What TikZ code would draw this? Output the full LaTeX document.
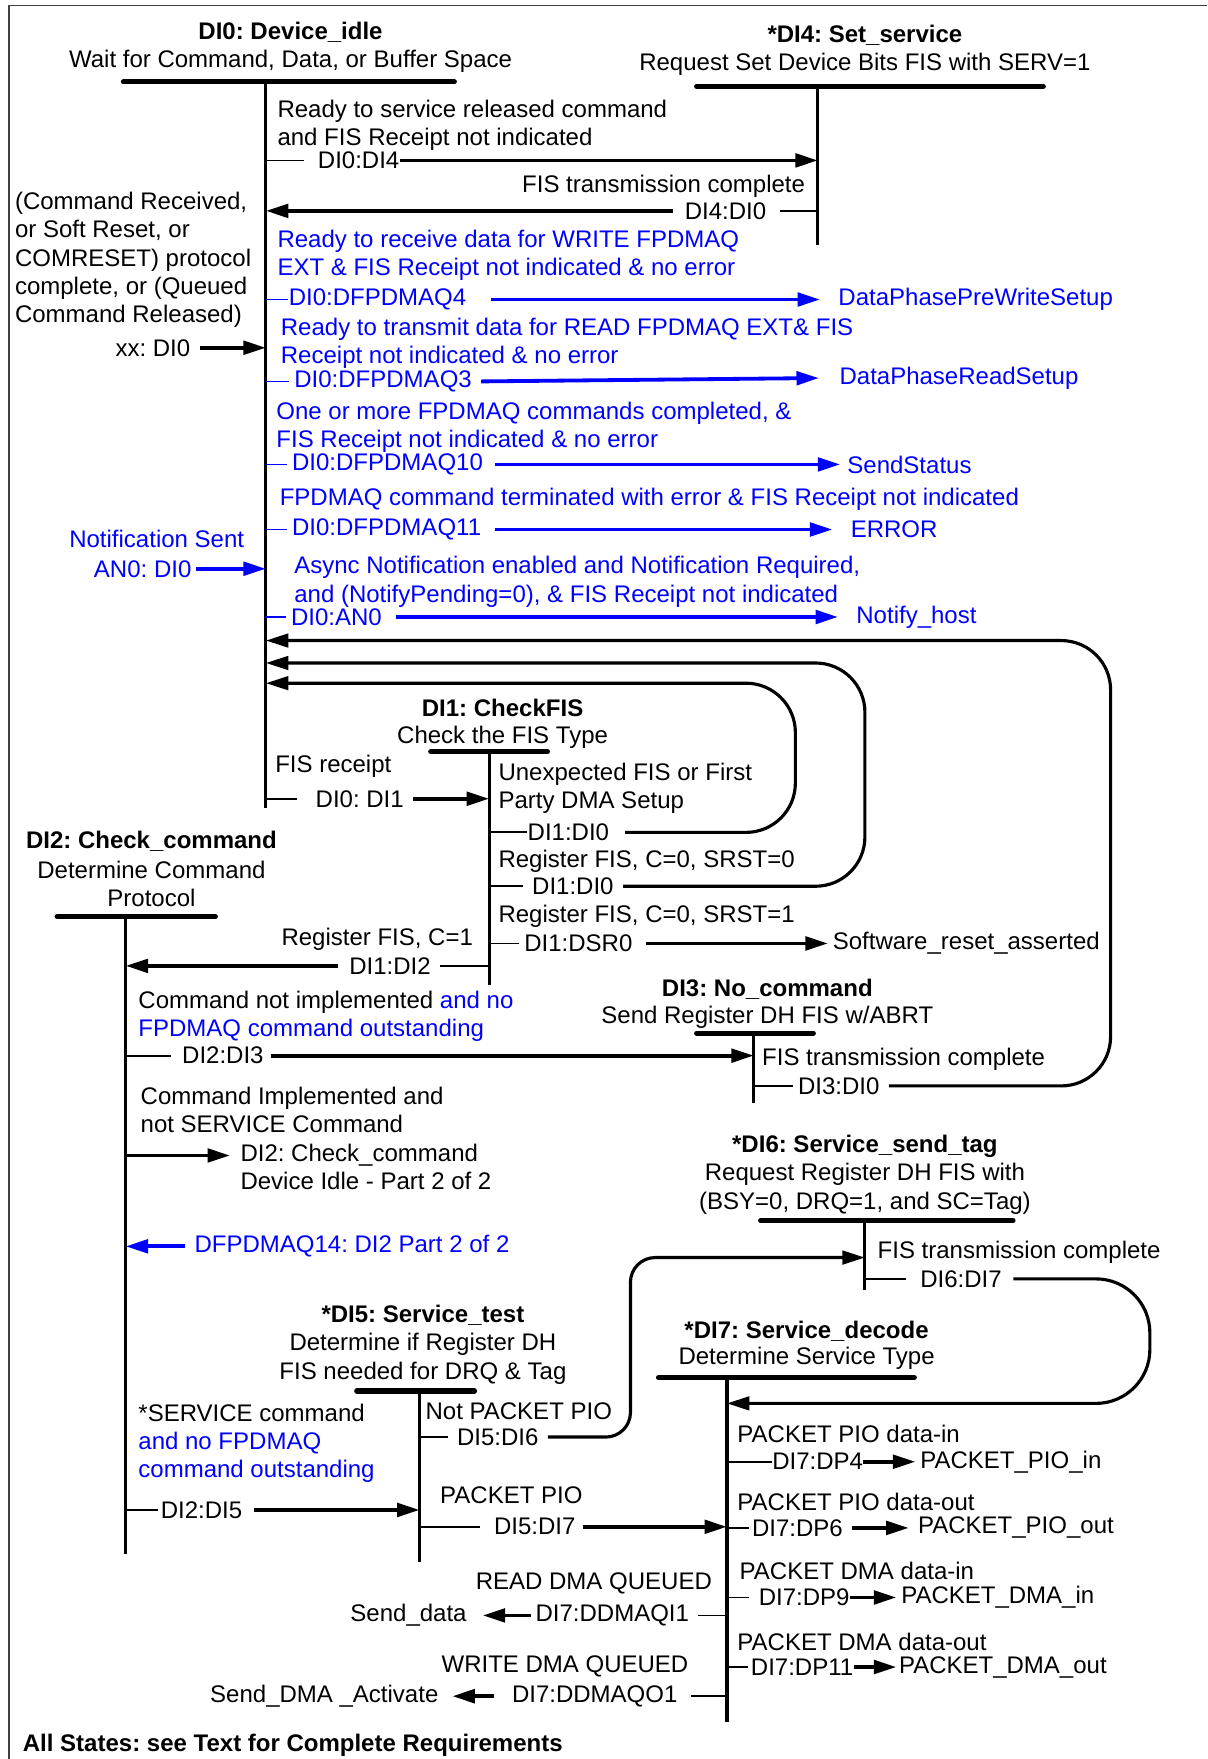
\documentclass[tikz,border=0pt]{standalone}
\usepackage{fontspec}
\setmainfont{Liberation Sans}
\usetikzlibrary{arrows.meta}
\frenchspacing
\begin{document}
\begin{tikzpicture}[x=0.5pt,y=-0.5pt,line join=round,
  font=\fontsize{10.7}{12.6}\selectfont,
  lbl/.style={anchor=west,inner sep=0pt,align=left},
  note/.style={lbl,yshift=-1.1pt},
  bl/.style={lbl,text=blue},
  bnote/.style={note,text=blue},
  ttl/.style={inner sep=0pt,align=center,yshift=-0.8pt,font=\fontsize{10.7}{12.6}\selectfont\bfseries},
  sub/.style={inner sep=0pt,align=center,yshift=-1.1pt},
  bar/.style={line width=2.3pt,line cap=round},
  stem/.style={line width=1.4pt},
  tick/.style={line width=0.8pt},
  arr/.style={line width=1.7pt,-{Triangle[length=10pt,width=6pt]}},
  barr/.style={arr,blue},
  back/.style={line width=1.4pt,rounded corners=22pt,-{Triangle[length=10pt,width=6pt]}}]
\useasboundingbox (0,0) rectangle (1076,1568);
\draw[line width=0.6pt,black!75] (8,1568) -- (8,5) -- (1076,5);

% DI0
\node[ttl] (d0) at (259,27) {DI0: Device\_idle};
\node[sub] (d0s) at (259,52) {Wait for Command, Data, or Buffer Space};
\draw[bar] (110,73) -- (405,73);
\coordinate (s0) at (237,73);
\draw[stem] (s0) -- (237,720);

% DI4
\node[ttl] (d4) at (771,30) {*DI4: Set\_service};
\node[sub] (d4s) at (771,55) {Request Set Device Bits FIS with SERV=1};
\draw[bar] (621,77) -- (930,77);
\coordinate (s4) at (729,77);
\draw[stem] (s4) -- (729,218);

\node[note] (c04) at (247,109.5) {Ready to service released command\\and FIS Receipt not indicated};
\node[lbl] (t04) at (283,143) {DI0:DI4};
\draw[tick] (t04 -| s0) -- ([xshift=-6pt]t04.west);
\draw[arr] (t04.east) -- (t04 -| s4);
\node[note,anchor=east] (c40) at (718,164) {FIS transmission complete};
\node[lbl] (t40) at (610,188) {DI4:DI0};
\draw[tick] ([xshift=6pt]t40.east) -- (t40 -| s4);
\draw[arr] ([xshift=-5pt]t40.west) -- (t40 -| s0);

% FPDMAQ exits
\node[bnote] (c4) at (247,225.5) {Ready to receive data for WRITE FPDMAQ\\EXT \& FIS Receipt not indicated \& no error};
\node[bl] (q4) at (257,267) {DI0:DFPDMAQ4};
\node[bl] (w4) at (747,267) {DataPhasePreWriteSetup};
\draw[tick,blue] (q4 -| s0) -- (q4.west);
\draw[barr] ([xshift=11pt]q4.east) -- ([xshift=-8pt]w4.west);

\node[bnote] (c3) at (250,303.5) {Ready to transmit data for READ FPDMAQ EXT\& FIS\\Receipt not indicated \& no error};
\node[bl] (q3) at (262,340) {DI0:DFPDMAQ3};
\node[bl] (w3) at (748,337) {DataPhaseReadSetup};
\draw[tick,blue] (q3 -| s0) -- ([xshift=-2pt]q3.west);
\draw[barr] ([xshift=4pt]q3.east) -- ([xshift=-9pt]w3.west);

\node[bnote] (c10) at (246,378.5) {One or more FPDMAQ commands completed, \&\\FIS Receipt not indicated \& no error};
\node[bl] (q10) at (260,414) {DI0:DFPDMAQ10};
\node[bl] (w10) at (755,414) {SendStatus};
\draw[tick,blue] (q10 -| s0) -- ([xshift=-2pt]q10.west);
\draw[barr] ([xshift=5pt]q10.east) -- ([xshift=-3pt]w10.west);

\node[bnote] (c11) at (249,443) {FPDMAQ command terminated with error \& FIS Receipt not indicated};
\node[bl] (q11) at (260,472) {DI0:DFPDMAQ11};
\node[bl] (w11) at (758,472) {ERROR};
\draw[tick,blue] (q11 -| s0) -- ([xshift=-2pt]q11.west);
\draw[barr] ([xshift=6pt]q11.east) -- ([xshift=-8pt]w11.west);

\node[bnote,anchor=east] (ns) at (218,478) {Notification Sent};
\node[bl,anchor=east] (an) at (171,507) {AN0: DI0};
\draw[barr] ([xshift=2pt]an.east) -- (an -| s0);

\node[bnote] (cn) at (262,516.5) {Async Notification enabled and Notification Required,\\and (NotifyPending=0), \& FIS Receipt not indicated};
\node[bl] (qa) at (259,550) {DI0:AN0};
\node[bl] (wa) at (763,550) {Notify\_host};
\draw[tick,blue] (qa -| s0) -- ([xshift=-2pt]qa.west);
\draw[barr] ([xshift=6pt]qa.east) -- ([xshift=-8pt]wa.west);

\node[note] (cr) at (13,229.5) {(Command Received,\\or Soft Reset, or\\COMRESET) protocol\\complete, or (Queued\\Command Released)};
\node[lbl,anchor=east] (xx) at (170,310) {xx: DI0};
\draw[arr] ([xshift=4pt]xx.east) -- (xx -| s0);

% DI2
\node[ttl] (d2) at (135,748) {DI2: Check\_command};
\node[sub] (d2s) at (135,785.5) {Determine Command\\Protocol};
\draw[bar] (51,817) -- (192,817);
\coordinate (s2) at (112,817);
\draw[stem] (s2) -- (112,1385);

% DI1
\node[ttl] (d1) at (448,629) {DI1: CheckFIS};
\node[sub] (d1s) at (448,655) {Check the FIS Type};
\draw[bar] (384,670) -- (488,670);
\coordinate (s1) at (436,670);
\draw[stem] (s1) -- (436,878);

\node[note] (c01) at (245,681) {FIS receipt};
\node[lbl] (t01) at (281,712) {DI0: DI1};
\draw[tick] (t01 -| s0) -- ([xshift=-8pt]t01.west);
\draw[arr] ([xshift=4pt]t01.east) -- (t01 -| s1);

\node[note] (c10a) at (444,700.5) {Unexpected FIS or First\\Party DMA Setup};
\node[lbl] (t10a) at (470,742) {DI1:DI0};
\draw[tick] (t10a -| s1) -- (t10a.west);
\coordinate (r1) at (709,609);
\draw[back] ([xshift=7pt]t10a.east) -| (r1) -- (r1 -| s0);

\node[note] (c10b) at (444,766) {Register FIS, C=0, SRST=0};
\node[lbl] (t10b) at (474,790) {DI1:DI0};
\draw[tick] (t10b -| s1) -- ([xshift=-4pt]t10b.west);
\coordinate (r2) at (771,591);
\draw[back] ([xshift=4pt]t10b.east) -| (r2) -- (r2 -| s0);

\node[note] (cdsr) at (444,815) {Register FIS, C=0, SRST=1};
\node[lbl] (tdsr) at (467,841) {DI1:DSR0};
\node[lbl] (wdsr) at (742,841) {Software\_reset\_asserted};
\draw[tick] (tdsr -| s1) -- ([xshift=-2pt]tdsr.west);
\draw[arr] ([xshift=6pt]tdsr.east) -- ([xshift=-2pt]wdsr.west);

\node[note,anchor=east] (c12) at (422,835) {Register FIS, C=1};
\node[lbl] (t12) at (311,861) {DI1:DI2};
\draw[tick] ([xshift=4pt]t12.east) -- (t12 -| s1);
\draw[arr] ([xshift=-5pt]t12.west) -- (t12 -| s2);

% DI3
\node[ttl] (d3) at (684,880) {DI3: No\_command};
\node[sub] (d3s) at (684,905) {Send Register DH FIS w/ABRT};
\draw[bar] (621,921) -- (725,921);
\coordinate (s3) at (672,921);
\draw[stem] (s3) -- (672,983);

\node[note] (c23) at (123,903.5) {Command not implemented \textcolor{blue}{and no}\\\textcolor{blue}{FPDMAQ command outstanding}};
\node[lbl] (t23) at (162,941) {DI2:DI3};
\draw[tick] (t23 -| s2) -- ([xshift=-5pt]t23.west);
\draw[arr] ([xshift=3pt]t23.east) -- (t23 -| s3);

\node[note] (c30) at (679,942) {FIS transmission complete};
\node[lbl] (t30) at (711,968) {DI3:DI0};
\draw[tick] (t30 -| s3) -- ([xshift=-2pt]t30.west);
\coordinate (r3) at (990,571);
\draw[back] ([xshift=4pt]t30.east) -| (r3) -- (r3 -| s0);

\node[note] (c22) at (125,987.5) {Command Implemented and\\not SERVICE Command};
\node[note] (t22) at (214,1038) {DI2: Check\_command\\Device Idle - Part 2 of 2};
\coordinate (p22) at (205,1030);
\draw[arr] (p22 -| s2) -- (p22);

\node[bl] (q14) at (173,1111) {DFPDMAQ14: DI2 Part 2 of 2};
\draw[barr] ([xshift=-4pt]q14.west) -- (q14 -| s2);

% DI7
\node[ttl] (d7) at (719,1185) {*DI7: Service\_decode};
\node[sub] (d7s) at (719,1209) {Determine Service Type};
\draw[bar] (587,1228) -- (815,1228);
\coordinate (s7) at (648,1228);
\draw[stem] (s7) -- (648,1535);

% DI6
\node[ttl] (d6) at (771,1020) {*DI6: Service\_send\_tag};
\node[sub] (d6s) at (771,1057.5) {Request Register DH FIS with\\(BSY=0, DRQ=1, and SC=Tag)};
\draw[bar] (678,1088) -- (903,1088);
\coordinate (s6) at (771,1088);
\draw[stem] (s6) -- (771,1150);
\node[note] (c67) at (782,1114) {FIS transmission complete};
\node[lbl] (t67) at (820,1140) {DI6:DI7};
\draw[tick] (t67 -| s6) -- ([xshift=-6pt]t67.west);
\coordinate (r67) at (1025,1251);
\draw[back,rounded corners=24pt] ([xshift=5pt]t67.east) -| (r67) -- (r67 -| s7);

% DI5
\node[ttl] (d5) at (377,1171) {*DI5: Service\_test};
\node[sub] (d5s) at (377,1209) {Determine if Register DH\\FIS needed for DRQ \& Tag};
\draw[bar] (318,1240) -- (423,1240);
\coordinate (s5) at (374,1240);
\draw[stem] (s5) -- (374,1392);

\node[note] (c25) at (123,1284.5) {*SERVICE command\\\textcolor{blue}{and no FPDMAQ}\\\textcolor{blue}{command outstanding}};
\node[lbl] (t25) at (143,1346) {DI2:DI5};
\draw[tick] (t25 -| s2) -- ([xshift=-1pt]t25.west);
\draw[arr] ([xshift=5pt]t25.east) -- (t25 -| s5);

\node[note] (c56) at (379,1256) {Not PACKET PIO};
\node[lbl] (t56) at (407,1281) {DI5:DI6};
\draw[tick] (t56 -| s5) -- ([xshift=-4pt]t56.west);
\coordinate (r56) at (562,1121);
\draw[back,rounded corners=11pt] ([xshift=4pt]t56.east) -| (r56) -- (r56 -| s6);

\node[note] (c57) at (392,1331) {PACKET PIO};
\node[lbl] (t57) at (440,1361) {DI5:DI7};
\draw[tick] (t57 -| s5) -- ([xshift=-6pt]t57.west);
\draw[arr] ([xshift=3pt]t57.east) -- (t57 -| s7);

% DI7 exits
\node[note] (cp4) at (657,1276) {PACKET PIO data-in};
\node[lbl] (tp4) at (688,1303) {DI7:DP4};
\node[lbl] (wp4) at (820,1303) {PACKET\_PIO\_in};
\draw[tick] (tp4 -| s7) -- (tp4.west);
\draw[arr] (tp4.east) -- ([xshift=-2pt]wp4.west);

\node[note] (cp6) at (657,1337) {PACKET PIO data-out};
\node[lbl] (tp6) at (670,1362) {DI7:DP6};
\node[lbl] (wp6) at (818,1362) {PACKET\_PIO\_out};
\draw[tick] (tp6 -| s7) -- ([xshift=-1pt]tp6.west);
\draw[arr] ([xshift=4pt]tp6.east) -- ([xshift=-4pt]wp6.west);

\node[note] (cp9) at (659,1398) {PACKET DMA data-in};
\node[lbl] (tp9) at (676,1424) {DI7:DP9};
\node[lbl] (wp9) at (803,1424) {PACKET\_DMA\_in};
\draw[tick] (tp9 -| s7) -- ([xshift=-4pt]tp9.west);
\draw[arr] (tp9.east) -- ([xshift=-2pt]wp9.west);

\node[note] (cp11) at (657,1461) {PACKET DMA data-out};
\node[lbl] (tp11) at (669,1486) {DI7:DP11};
\node[lbl] (wp11) at (801,1486) {PACKET\_DMA\_out};
\draw[tick] (tp11 -| s7) -- ([xshift=-1pt]tp11.west);
\draw[arr] (tp11.east) -- ([xshift=-1pt]wp11.west);

\node[note,anchor=east] (cq1) at (635,1409) {READ DMA QUEUED};
\node[lbl] (tq1) at (477,1440) {DI7:DDMAQI1};
\node[lbl] (wq1) at (312,1440) {Send\_data};
\draw[tick] ([xshift=4pt]tq1.east) -- (tq1 -| s7);
\draw[arr] ([xshift=-2pt]tq1.west) -- ([xshift=7pt]wq1.east);

\node[note,anchor=east] (cq0) at (614,1483) {WRITE DMA QUEUED};
\node[lbl] (tq0) at (456,1512) {DI7:DDMAQO1};
\node[lbl] (wq0) at (187,1512) {Send\_DMA \_Activate};
\draw[tick] ([xshift=6pt]tq0.east) -- (tq0 -| s7);
\draw[arr] ([xshift=-8pt]tq0.west) -- ([xshift=6pt]wq0.east);

\node[ttl,anchor=west] (foot) at (20,1554) {All States: see Text for Complete Requirements};
\end{tikzpicture}
\end{document}
